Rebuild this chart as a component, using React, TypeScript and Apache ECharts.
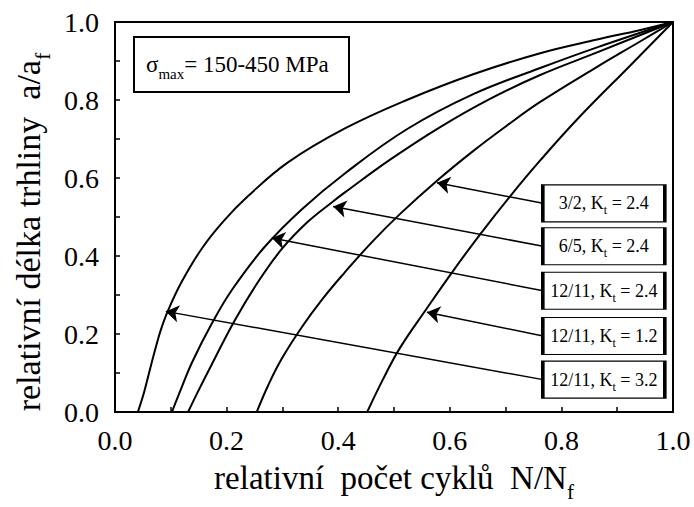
import React, { useEffect, useRef } from 'react';
import * as echarts from 'echarts';

const FONT = '"Liberation Serif", "Times New Roman", serif';

// curves [N/Nf, a/af]
const curve_12_11_Kt32 = [[0.041,0],[0.052,0.05],[0.061,0.10],[0.072,0.16],[0.082,0.21],[0.095,0.26],[0.12,0.335],[0.156,0.42],[0.195,0.49],[0.238,0.553],[0.31,0.64],[0.412,0.727],[0.523,0.8],[0.642,0.866],[0.762,0.92],[0.864,0.955],[0.94,0.979],[1,1]];
const curve_12_11_Kt24 = [[0.102,0],[0.12,0.065],[0.138,0.127],[0.174,0.228],[0.21,0.314],[0.268,0.423],[0.335,0.52],[0.413,0.613],[0.523,0.725],[0.642,0.815],[0.762,0.882],[0.864,0.935],[1,1]];
const curve_6_5_Kt24 = [[0.131,0],[0.15,0.056],[0.172,0.118],[0.215,0.236],[0.258,0.337],[0.299,0.418],[0.345,0.487],[0.389,0.538],[0.412,0.563],[0.493,0.647],[0.582,0.73],[0.672,0.803],[0.762,0.864],[0.864,0.922],[1,1]];
const curve_3_2_Kt24 = [[0.254,0],[0.275,0.07],[0.299,0.137],[0.335,0.218],[0.372,0.29],[0.41,0.355],[0.46,0.435],[0.511,0.508],[0.577,0.593],[0.64,0.667],[0.703,0.735],[0.762,0.795],[0.864,0.885],[0.941,0.95],[1,1]];
const curve_12_11_Kt12 = [[0.452,0],[0.48,0.083],[0.511,0.165],[0.559,0.266],[0.606,0.362],[0.654,0.455],[0.708,0.553],[0.762,0.645],[0.828,0.75],[0.923,0.888],[1,1]];

const curves = [curve_12_11_Kt32, curve_12_11_Kt24, curve_6_5_Kt24, curve_3_2_Kt24, curve_12_11_Kt12];

// annotation labels
const labelRatio = ['3/2', '6/5', '12/11', '12/11', '12/11'];
const labelKt = ['2.4', '2.4', '2.4', '1.2', '3.2'];
const labelBoxX = 0.876;
const labelBoxY = [0.535, 0.425, 0.311, 0.195, 0.083];
const arrowTailX = 0.767;
const arrowTips = [[0.577, 0.588], [0.391, 0.527], [0.281, 0.446], [0.559, 0.256], [0.091, 0.258]];

const GRID = { left: 115, right: 21, top: 22, bottom: 90 };
const W = 694, H = 507;
const PW = W - GRID.left - GRID.right;
const PH = H - GRID.top - GRID.bottom;

export default function App() {
  const ref = useRef<HTMLDivElement>(null);
  useEffect(() => {
    if (!ref.current) return;
    const chart = echarts.init(ref.current, null, { renderer: 'svg' });

    const arrowData = arrowTips.map((tip, i) => ({ coords: [[arrowTailX, labelBoxY[i]], tip] }));
    const haloData = arrowTips.map((tip, i) => {
      const tail = [arrowTailX, labelBoxY[i]];
      const dx = (tail[0] - tip[0]) * PW;
      const dy = (tail[1] - tip[1]) * PH;
      const len = Math.sqrt(dx * dx + dy * dy);
      const t = 17 / len;
      return { coords: [tail, [tip[0] + (tail[0] - tip[0]) * t, tip[1] + (tail[1] - tip[1]) * t]] };
    });

    const richLabel = {
      n: { fontFamily: FONT, fontSize: 18, color: '#000', lineHeight: 20 },
      s: { fontFamily: FONT, fontSize: 12, color: '#000', verticalAlign: 'bottom', lineHeight: 12, padding: [0, 0, -3, 0] },
    };
    const nameRich = (size: number) => ({
      n: { fontFamily: FONT, fontSize: size, color: '#000', lineHeight: size + 3 },
      s: { fontFamily: FONT, fontSize: Math.round(size * 0.64), color: '#000', verticalAlign: 'bottom', lineHeight: Math.round(size * 0.64), padding: [0, 0, -6, 0] },
    });
    const tickFmt = (v: number) => (Math.round(v * 10) % 2 === 0 ? v.toFixed(1) : '');

    const option: any = {
      animation: false,
      textStyle: { fontFamily: FONT },
      grid: { ...GRID, show: true, borderColor: '#000', borderWidth: 2, backgroundColor: 'transparent' },
      xAxis: {
        type: 'value', min: 0, max: 1, interval: 0.1,
        axisLine: { show: true, lineStyle: { color: '#000', width: 2 } },
        axisTick: { show: true, inside: true, length: 5, lineStyle: { color: '#000', width: 1.5 } },
        axisLabel: { fontFamily: FONT, fontSize: 28, color: '#000', margin: 14, formatter: tickFmt },
        splitLine: { show: false },
        name: '{n|relativní  počet cyklů  N/N}{s|f}',
        nameLocation: 'middle', nameGap: 48,
        nameTextStyle: { fontFamily: FONT, rich: nameRich(33) },
      },
      yAxis: {
        type: 'value', min: 0, max: 1, interval: 0.1,
        axisLine: { show: true, lineStyle: { color: '#000', width: 2 } },
        axisTick: { show: true, inside: true, length: 5, lineStyle: { color: '#000', width: 1.5 } },
        axisLabel: { fontFamily: FONT, fontSize: 28, color: '#000', margin: 16, formatter: tickFmt },
        splitLine: { show: false },
        name: '{n|relativní délka trhliny  a/a}{s|f}',
        nameLocation: 'middle', nameGap: 60,
        nameTextStyle: { fontFamily: FONT, padding: [0, 30, 0, 0], rich: nameRich(34) },
      },
      graphic: [
        { type: 'rect', left: 133, top: 36, shape: { width: 215, height: 55 }, style: { fill: '#fff', stroke: '#000', lineWidth: 2 }, z: 10 },
        {
          type: 'text', x: 146, y: 64, z: 11,
          style: {
            text: '{n|σ}{s|max}{n|= 150-450 MPa}',
            fontFamily: FONT,
            textVerticalAlign: 'middle', verticalAlign: 'middle',
            rich: {
              n: { fontFamily: FONT, fontSize: 23, fill: '#000', color: '#000', lineHeight: 26 },
              s: { fontFamily: FONT, fontSize: 15, fill: '#000', color: '#000', verticalAlign: 'bottom', lineHeight: 15, padding: [0, 0, -4, 0] },
            },
          },
        },
      ],
      series: [
        ...curves.map((c) => ({
          type: 'line', data: c, showSymbol: false, symbol: 'none', smooth: 0.4,
          lineStyle: { color: '#000', width: 2 }, silent: true,
        })),
        {
          type: 'lines', coordinateSystem: 'cartesian2d', data: haloData, symbol: ['none', 'none'],
          lineStyle: { color: '#fff', width: 6, opacity: 1 }, silent: true,
        },
        {
          type: 'lines', coordinateSystem: 'cartesian2d', data: arrowData, symbol: ['none', 'arrow'], symbolSize: 13,
          lineStyle: { color: '#000', width: 1.5, opacity: 1 }, silent: true,
        },
        {
          type: 'scatter', symbol: 'rect', symbolSize: [122, 37], silent: true,
          itemStyle: { color: '#fff', borderColor: '#000', borderWidth: 2, opacity: 1 },
          data: labelBoxY.map((y, i) => [labelBoxX, y, i]),
          label: {
            show: true, position: 'inside',
            formatter: (p: any) => `{n|${labelRatio[p.data[2]]}, K}{s|t}{n| = ${labelKt[p.data[2]]}}`,
            rich: richLabel,
          },
        },
      ],
    };
    chart.setOption(option);
    return () => chart.dispose();
  }, []);
  return <div ref={ref} style={{ position: 'absolute', left: 0, top: 0, width: W, height: H, background: '#fff' }} />;
}
